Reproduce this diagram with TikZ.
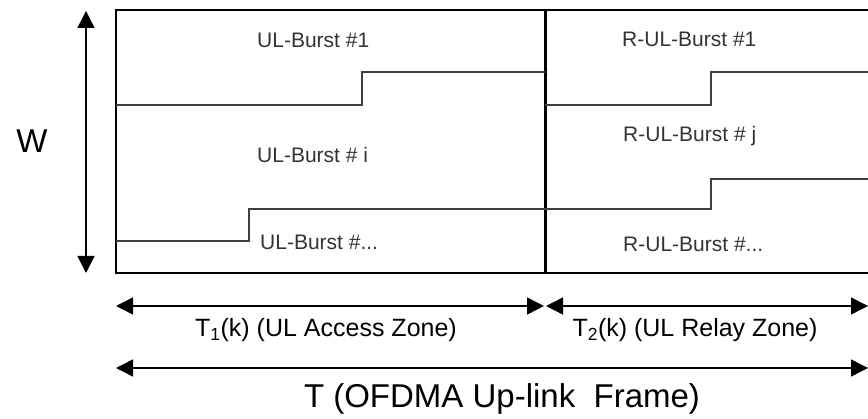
\documentclass[tikz,border=0pt]{standalone}
\usepackage{fontspec}
\setmainfont{Liberation Sans}
\usetikzlibrary{arrows.meta}
\begin{document}
\begin{tikzpicture}[x=1pt, y=-1pt, >={Triangle[length=17pt, width=17pt]},
  burst/.style={text=black!80, font=\fontsize{21}{25}\selectfont, anchor=base west, inner sep=0pt},
  zone/.style={font=\fontsize{25}{30}\selectfont, anchor=base, inner sep=0pt},
  split/.style={line width=1.3pt, black!75},
  dim/.style={<->, line width=1.4pt}]
\useasboundingbox (0,0) rectangle (868,419);
\clip (0,0) rectangle (868,419);
% Frame outline and zone divider
\draw[line width=2.6pt] (880,10) -- (116,10) -- (116,273) -- (880,273);
\draw[line width=3pt] (545,10) -- (545,273);
% Burst boundaries
\draw[split] (116,105) -- (362,105) -- (362,72) -- (545,72);
\draw[split] (545,105) -- (711,105) -- (711,72) -- (880,72);
\draw[split] (116,241) -- (249,241) -- (249,209) -- (545,209);
\draw[split] (545,209) -- (711,209) -- (711,179) -- (880,179);
% Burst labels
\node[burst] (ul1) at (257,48) {UL-Burst \#1};
\node[burst] (uli) at (257,163) {UL-Burst \# i};
\node[burst] (uln) at (260,250) {UL-Burst \#...};
\node[burst] (rul1) at (622,47) {R-UL-Burst \#1};
\node[burst] (rulj) at (623,142) {R-UL-Burst \# j};
\node[burst] (ruln) at (623,252) {R-UL-Burst \#...};
% Bandwidth
\coordinate (wtop) at (86,11);
\coordinate (wbot) at (86,273);
\draw[dim] (wtop) -- (wbot);
\node[font=\fontsize{33}{38}\selectfont, anchor=base, inner sep=0pt] (w) at (32,153) {W};
% Zone durations
\coordinate (acl) at (116,306);
\coordinate (acr) at (544,306);
\coordinate (rzl) at (546,306);
\coordinate (rzr) at (868,306);
\draw[dim] (acl) -- (acr);
\draw[dim] (rzl) -- (rzr);
\node[zone] (t1) at (326,337) {T\textsubscript{1}(k) (UL Access Zone)};
\node[zone] (t2) at (695,337) {T\textsubscript{2}(k) (UL Relay Zone)};
% Whole frame
\coordinate (frl) at (116,368);
\coordinate (frr) at (868,368);
\draw[dim] (frl) -- (frr);
\node[font=\fontsize{33}{38}\selectfont, anchor=base, inner sep=0pt] (frame) at (502,408) {T (OFDMA Up-link~~Frame)};
\end{tikzpicture}
\end{document}
